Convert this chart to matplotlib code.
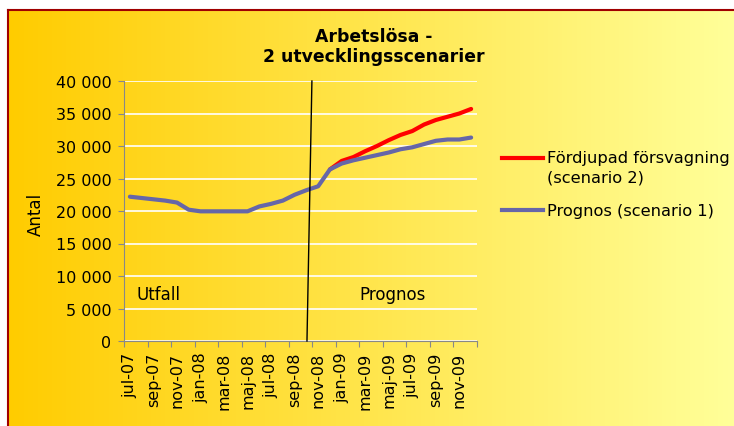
import numpy as np
import matplotlib
matplotlib.use("Agg")
import matplotlib.pyplot as plt
from matplotlib.colors import LinearSegmentedColormap
from matplotlib.lines import Line2D

# monthly data jul-07 .. dec-09
months = ["jul-07", "aug-07", "sep-07", "okt-07", "nov-07", "dec-07",
          "jan-08", "feb-08", "mar-08", "apr-08", "maj-08", "jun-08",
          "jul-08", "aug-08", "sep-08", "okt-08", "nov-08", "dec-08",
          "jan-09", "feb-09", "mar-09", "apr-09", "maj-09", "jun-09",
          "jul-09", "aug-09", "sep-09", "okt-09", "nov-09", "dec-09"]

prognos = [22200, 22000, 21800, 21600, 21300, 20200,
           19950, 19950, 19950, 19950, 19950, 20700,
           21100, 21600, 22500, 23200, 23800, 26400,
           27300, 27800, 28200, 28600, 29000, 29500,
           29800, 30300, 30800, 31000, 31000, 31300]

# scenario 2 starts where the forecast begins to diverge
fordjupad_start = 17
fordjupad = [26400, 27700, 28300, 29200, 30000, 30900, 31700,
             32300, 33300, 34000, 34500, 35000, 35700]

labels = ["Fördjupad försvagning\n(scenario 2)", "Prognos (scenario 1)"]
colors = ["#FF0000", "#6666A8"]

W, H = 734, 427
fig = plt.figure(figsize=(W / 100, H / 100), dpi=100)

def fx(px):
    return px / W

def fy(py):
    return 1 - py / H

# background gradient
bg = fig.add_axes([fx(8), 0, 1 - fx(8), fy(10.5)], zorder=-10)
cmap = LinearSegmentedColormap.from_list("bg", ["#FFCC00", "#FFFF99"])
bg.imshow(np.linspace(0, 1, 256)[None, :], cmap=cmap, aspect="auto",
          extent=[0, 1, 0, 1])
bg.axis("off")
fig.add_artist(Line2D([fx(8), 1], [fy(10.5)] * 2, color="#A00000", lw=1.5))
fig.add_artist(Line2D([fx(8)] * 2, [0, fy(10.5)], color="#A00000", lw=1.5))

ax = fig.add_axes([fx(124), fy(342), fx(477 - 124), (342 - 82) / H])
ax.set_facecolor("none")

x = np.arange(len(months))
xf = np.arange(fordjupad_start, fordjupad_start + len(fordjupad))
ax.plot(xf, fordjupad, color=colors[0], lw=3.0, solid_capstyle="round", zorder=3)
ax.plot(x, prognos, color=colors[1], lw=3.0, solid_capstyle="round", zorder=4)

# boundary between outcome and forecast
ax.plot([15.05, 15.47], [0, 40000], color="black", lw=1, clip_on=False, zorder=5)
ax.text(0.52, 7300, "Utfall", fontsize=12, va="center", ha="left")
ax.text(22.3, 7300, "Prognos", fontsize=12, va="center", ha="center")

ax.set_xlim(-0.5, len(months) - 0.5)
ax.set_ylim(0, 40000)
ax.set_yticks(np.arange(0, 40001, 5000))
ax.set_yticklabels([f"{v:,}".replace(",", " ") for v in range(0, 40001, 5000)])
ax.grid(axis="y", color="white", lw=1.2)
ax.set_axisbelow(True)

ax.set_xticks(np.arange(-0.5, len(months), 2))
ax.set_xticklabels([])
ax.set_xticks(x[::2], minor=True)
ax.set_xticklabels(months[::2], minor=True, rotation=90, fontsize=11.5)
ax.tick_params(axis="x", which="minor", length=0, pad=7.5)
ax.tick_params(axis="x", which="major", length=4, color="#888888")
ax.tick_params(axis="y", length=4, color="#888888", labelsize=11.5, pad=5)

for s in ["top", "right"]:
    ax.spines[s].set_visible(False)
for s in ["left", "bottom"]:
    ax.spines[s].set_color("#888888")

ax.set_ylabel("Antal", fontsize=12)
ax.yaxis.set_label_coords(-0.225, 0.49)

fig.text(fx(374), fy(37), "Arbetslösa -", fontsize=12.4, fontweight="bold",
         ha="center", va="center")
fig.text(fx(374), fy(57), "2 utvecklingsscenarier", fontsize=12.4,
         fontweight="bold", ha="center", va="center")

# legend, laid out like the original
fig.add_artist(Line2D([fx(502), fx(543)], [fy(159)] * 2, color=colors[0], lw=3.0))
fig.text(fx(547), fy(151), labels[0], fontsize=11.7, ha="left", va="top",
         linespacing=1.35)
fig.add_artist(Line2D([fx(502), fx(543)], [fy(211)] * 2, color=colors[1], lw=3.0))
fig.text(fx(547), fy(212), labels[1], fontsize=11.7, ha="left", va="center")

fig.savefig("out.png", dpi=100)
